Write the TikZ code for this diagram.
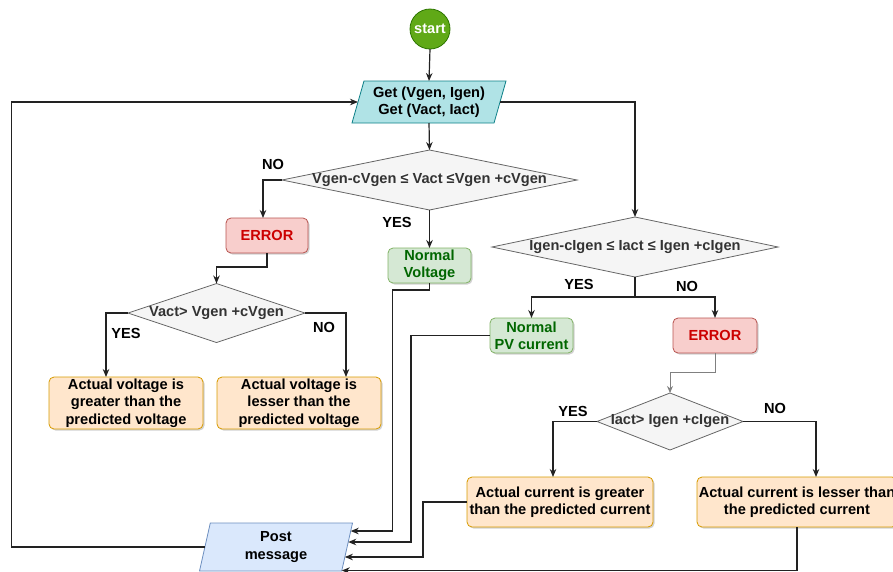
\documentclass[tikz,border=0pt]{standalone}
\usepackage{fontspec}
\setmainfont{Liberation Sans}
\usetikzlibrary{shapes.geometric,arrows.meta,calc,shadows}
\definecolor{startfill}{HTML}{60A917}
\definecolor{startdraw}{HTML}{2D7600}
\definecolor{cyanfill}{HTML}{B0E3E6}
\definecolor{cyandraw}{HTML}{0E8088}
\definecolor{decfill}{HTML}{F5F5F5}
\definecolor{decdraw}{HTML}{666666}
\definecolor{dectext}{HTML}{333333}
\definecolor{errfill}{HTML}{F8CECC}
\definecolor{errdraw}{HTML}{B85450}
\definecolor{errtext}{HTML}{CC0000}
\definecolor{okfill}{HTML}{D5E8D4}
\definecolor{okdraw}{HTML}{82B366}
\definecolor{oktext}{HTML}{006600}
\definecolor{orfill}{HTML}{FFE6CC}
\definecolor{ordraw}{HTML}{D79B00}
\definecolor{postfill}{HTML}{DAE8FC}
\definecolor{postdraw}{HTML}{6C8EBF}
\definecolor{linec}{HTML}{222222}
\newcommand{\wle}{{\setlength{\fboxsep}{0pt}\colorbox{white}{≤}}}
\begin{document}
\begin{tikzpicture}[x=1pt,y=-1pt,
  every node/.style={font=\bfseries\fontsize{14.6}{17.3}\selectfont, outer sep=0pt},
  box/.style={rectangle, rounded corners=5pt, draw, line width=0.8pt, align=center, inner sep=0.5pt,
    drop shadow={shadow xshift=1.5pt, shadow yshift=-1.5pt, opacity=0.18, fill=black}},
  errbox/.style={box, fill=errfill, draw=errdraw, text=errtext, minimum width=82pt, minimum height=35pt},
  okbox/.style={box, fill=okfill, draw=okdraw, text=oktext, minimum width=83pt, minimum height=35pt},
  resbox/.style={box, fill=orfill, draw=ordraw, text=black},
  decision/.style={diamond, draw=decdraw, fill=decfill, line width=0.8pt, inner sep=0pt},
  dtext/.style={text=dectext, inner sep=0pt},
  lbl/.style={text=black, inner sep=0pt},
  conn/.style={draw=linec, line width=1.2pt, -{Stealth[length=8pt,width=6.5pt]}},
  thinconn/.style={draw=gray, line width=0.9pt, -{Stealth[length=7pt,width=6pt]}}
]
\useasboundingbox (0,0) rectangle (893,571);

% nodes
\node[circle, draw=startdraw, fill=startfill, line width=0.8pt, minimum size=40pt, inner sep=0pt, text=white] (start) at (430,29) {start};
\node[trapezium, trapezium left angle=70, trapezium right angle=110, trapezium stretches body,
  draw=cyandraw, fill=cyanfill, line width=0.8pt, minimum width=154pt, minimum height=42pt,
  inner sep=1pt, align=center] (get) at (429,102) {Get (Vgen, Igen)\\Get (Vact, Iact)};

\node[decision, minimum width=295pt, minimum height=60pt,
  label={[dtext]center:Vgen-cVgen \wle{} Vact \wle Vgen +cVgen}] (d1) at (429.5,180) {};
\node[errbox] (err1) at (267,235.5) {ERROR};
\node[okbox] (nv) at (429.5,265.5) {Normal\\Voltage};
\node[decision, minimum width=177pt, minimum height=59pt,
  label={[dtext]center:Vact> Vgen +cVgen}] (d3) at (216.5,313) {};
\node[resbox, minimum width=154pt, minimum height=52pt] (ga) at (126,403) {Actual voltage is\\greater than the\\predicted voltage};
\node[resbox, minimum width=164pt, minimum height=52pt] (la) at (299,403) {Actual voltage is\\lesser than the\\predicted voltage};

\node[decision, minimum width=286pt, minimum height=60pt,
  label={[dtext]center:Igen-cIgen \wle{} Iact \wle{} Igen +cIgen}] (d2) at (635,247) {};
\node[okbox] (npv) at (531.5,335.5) {Normal\\PV current};
\node[errbox, minimum width=84pt] (err2) at (715,335.5) {ERROR};
\node[decision, minimum width=146pt, minimum height=57pt,
  label={[dtext]center:Iact> Igen +cIgen}] (d4) at (670,421.5) {};
\node[resbox, minimum width=186pt, minimum height=50pt] (gc) at (560,502) {Actual current is greater\\than the predicted current};
\node[resbox, minimum width=200pt, minimum height=50pt] (lc) at (797,502) {Actual current is lesser than\\the predicted current};

\node[trapezium, trapezium left angle=71.6, trapezium right angle=108.4, trapezium stretches body,
  draw=postdraw, fill=postfill, line width=0.8pt, minimum width=153pt, minimum height=48pt,
  inner sep=1pt, align=center] (post) at (276,547) {Post\\message};

% branch labels
\node[lbl] (no1) at (273,164) {NO};
\node[lbl] (yes1) at (397,222) {YES};
\node[lbl] (yes3) at (126,333) {YES};
\node[lbl] (no3) at (324,327) {NO};
\node[lbl] (yes2) at (579,284) {YES};
\node[lbl] (no2) at (687,286) {NO};
\node[lbl] (yes4) at (573,411) {YES};
\node[lbl] (no4) at (775,408) {NO};

% points on the right side of the post node
\coordinate (p1) at ($(post.top right corner)!0.167!(post.bottom right corner)$);
\coordinate (p2) at ($(post.top right corner)!0.396!(post.bottom right corner)$);
\coordinate (p3) at ($(post.top right corner)!0.708!(post.bottom right corner)$);
\coordinate (p4) at ($(post.top right corner)!0.99!(post.bottom right corner)$);

% connectors
\draw[conn] (start.south) -- (get.north);
\draw[conn] (get.south) -- (d1.north);
\draw[conn] (get.right side) -| (d2.north);
\draw[conn] (d1.west) -| ([xshift=-4pt]err1.north);
\draw[conn] (d1.south) -- (nv.north);
\draw[conn] (err1.south) -- ++(0,14) -| (d3.north);
\draw[conn] (d3.west) -| ([xshift=-20pt]ga.north);
\draw[conn] (d3.east) -| ([xshift=47pt]la.north);
\draw[conn] (d2.south) -- ++(0,20) -| (npv.north);
\draw[conn] (d2.south) -- ++(0,20) -| (err2.north);
\draw[thinconn] (err2.south) -- ++(0,19) -| (d4.north);
\draw[conn] (d4.west) -| ([xshift=-7pt]gc.north);
\draw[conn] (d4.east) -| ([xshift=19pt]lc.north);

\draw[conn] (nv.south) -- ++(0,7) -- ++(-37,0) |- (p1);
\draw[conn] (npv.west) -- ++(-79,0) |- (p2);
\draw[conn] (gc.west) -- ++(-44,0) |- (p3);
\draw[conn] (lc.south) |- (p4);
\draw[conn] (post.left side) -| ++(-193,0) |- (get.left side);
\end{tikzpicture}
\end{document}
